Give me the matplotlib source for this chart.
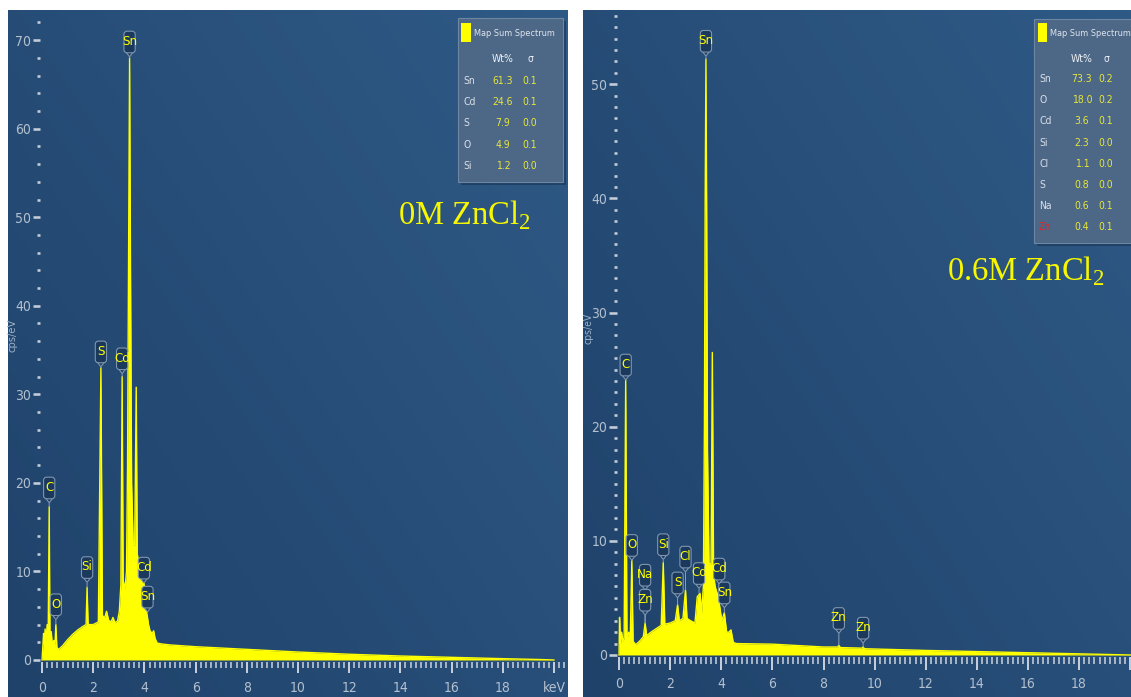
import numpy as np
import matplotlib
matplotlib.use("Agg")
import matplotlib.pyplot as plt
from matplotlib import font_manager as fm
from matplotlib.offsetbox import DrawingArea, AnnotationBbox
from matplotlib.patches import FancyBboxPatch, Rectangle, Polygon
from matplotlib.text import Text
from matplotlib.ticker import FixedLocator, FixedFormatter

# ---------------- data ----------------
energy_0M = [0.00, 0.03, 0.06, 0.09, 0.12, 0.16, 0.20, 0.24, 0.28, 0.31, 0.36, 0.40, 0.46, 0.50,
             0.54, 0.58, 0.65, 0.80, 1.00, 1.20, 1.40, 1.60, 1.72, 1.76, 1.80, 2.00, 2.20, 2.30,
             2.36, 2.45, 2.52, 2.60, 2.70, 2.77, 2.85, 2.95, 3.02, 3.08, 3.13, 3.17, 3.24, 3.30,
             3.34, 3.38, 3.42, 3.46, 3.50, 3.56, 3.62, 3.68, 3.72, 3.80, 3.90, 3.98, 4.04, 4.10,
             4.16, 4.22, 4.30, 4.36, 4.42, 4.50, 4.70, 5.00, 6.00, 8.00, 10.0, 12.0, 14.0, 16.0,
             18.0, 19.5, 20.0]
cps_0M = [0.0, 1.5, 3.0, 1.8, 3.5, 2.2, 4.0, 3.0, 17.3, 2.5, 3.2, 1.8, 2.2, 1.5,
          4.0, 1.4, 1.2, 1.6, 2.3, 2.9, 3.4, 3.8, 4.0, 8.2, 4.0, 4.0, 4.3, 33.0,
          5.0, 4.8, 5.5, 4.5, 4.3, 4.8, 4.2, 4.4, 5.5, 8.5, 32.0, 9.0, 8.0, 10.0,
          22.0, 45.0, 68.0, 42.0, 20.0, 13.0, 13.0, 30.8, 12.0, 10.5, 9.0, 8.7, 6.5, 5.2,
          4.0, 3.3, 3.0, 3.3, 2.4, 1.9, 1.8, 1.7, 1.5, 1.2, 0.9, 0.65, 0.45, 0.3,
          0.15, 0.05, 0.0]

energy_06M = [0.00, 0.02, 0.06, 0.10, 0.15, 0.20, 0.26, 0.31, 0.38, 0.44, 0.50, 0.55, 0.65, 0.80,
              0.95, 1.02, 1.08, 1.25, 1.45, 1.65, 1.73, 1.79, 2.00, 2.20, 2.29, 2.36, 2.50, 2.60,
              2.66, 2.80, 2.97, 3.06, 3.17, 3.23, 3.30, 3.34, 3.37, 3.40, 3.43, 3.46, 3.52, 3.60,
              3.65, 3.70, 3.76, 3.89, 4.02, 4.12, 4.21, 4.30, 4.38, 4.47, 4.60, 6.00, 8.00, 8.55,
              8.60, 8.66, 9.50, 9.55, 9.60, 12.0, 14.0, 16.0, 18.0, 20.0]
cps_06M = [0.0, 3.3, 1.0, 2.0, 1.2, 1.5, 24.1, 1.5, 2.0, 1.5, 8.3, 1.2, 0.9, 1.2,
           1.6, 2.8, 1.7, 2.0, 2.3, 2.6, 8.1, 2.7, 2.8, 3.0, 4.4, 3.0, 3.2, 5.7,
           3.2, 3.0, 2.8, 5.1, 5.4, 3.7, 6.0, 20.0, 40.0, 52.2, 38.0, 18.0, 8.0, 8.0,
           26.5, 7.0, 6.0, 5.0, 3.0, 3.7, 2.0, 2.0, 2.2, 1.1, 1.0, 0.95, 0.7, 0.7,
           0.85, 0.65, 0.6, 0.7, 0.55, 0.4, 0.3, 0.2, 0.1, 0.0]

peak_names_0M = ['C', 'O', 'Si', 'S', 'Cd', 'Sn', 'Cd', 'Sn']
peak_energy_0M = [0.28, 0.54, 1.76, 2.30, 3.13, 3.42, 3.98, 4.12]
peak_cps_0M = [17.3, 4.0, 8.2, 33.0, 32.0, 68.0, 8.7, 5.2]

peak_names_06M = ['C', 'O', 'Na', 'Zn', 'Si', 'S', 'Cl', 'Cd', 'Sn', 'Cd', 'Sn', 'Zn', 'Zn']
peak_energy_06M = [0.26, 0.50, 1.02, 1.02, 1.73, 2.29, 2.60, 3.13, 3.40, 3.92, 4.12, 8.60, 9.55]
peak_cps_06M = [24.1, 8.3, 2.8, 2.8, 8.1, 4.4, 5.7, 5.4, 52.2, 5.0, 3.7, 0.85, 0.7]

quant_el_0M = ['Sn', 'Cd', 'S', 'O', 'Si']
quant_wt_0M = ['61.3', '24.6', '7.9', '4.9', '1.2']
quant_sig_0M = ['0.1', '0.1', '0.0', '0.1', '0.0']

quant_el_06M = ['Sn', 'O', 'Cd', 'Si', 'Cl', 'S', 'Na', 'Zn']
quant_wt_06M = ['73.3', '18.0', '3.6', '2.3', '1.1', '0.8', '0.6', '0.4']
quant_sig_06M = ['0.2', '0.2', '0.1', '0.0', '0.0', '0.0', '0.1', '0.1']

# ---------------- fonts: look for a narrow sans face ----------------
_narrow = None
for f in fm.fontManager.ttflist:
    nm = f.name.lower()
    fn = f.fname.lower()
    if ('condensed' in nm or 'narrow' in nm or 'condensed' in fn or 'narrow' in fn
            or str(f.stretch) in ('condensed', 'semi-condensed', 'extra-condensed')):
        if f.style == 'normal' and f.weight in (400, 'normal', 'regular', 'book'):
            if 'serif' in nm and 'sans' not in nm:
                continue
            _narrow = f.fname
            break
if _narrow:
    UI = dict(fontproperties=fm.FontProperties(fname=_narrow))
    SCALE = 1.0
else:
    UI = dict(family='DejaVu Sans')
    SCALE = 0.82


def ui(size, **kw):
    d = {}
    if 'fontproperties' in UI:
        fp = UI['fontproperties'].copy()
        fp.set_size(size)
        if kw.pop('bold', False):
            fp.set_weight('bold')
        d['fontproperties'] = fp
    else:
        d['family'] = 'DejaVu Sans'
        d['fontsize'] = size * SCALE
        if kw.pop('bold', False):
            d['fontweight'] = 'bold'
    d.update(kw)
    return d


# ---------------- layout / style ----------------
W, H = 1131, 697
PT = 0.72  # points per pixel at dpi 100
YELLOW = '#ffff00'
TICK = '#c3ccd8'
LAB = '#b4c0cf'

fig = plt.figure(figsize=(W / 100, H / 100), dpi=100)
fig.patch.set_facecolor('white')


def add_panel(box):
    l, t, r, b = box
    return fig.add_axes([l / W, 1 - b / H, (r - l) / W, (b - t) / H])


def px_to_ax(box, x, y):
    l, t, r, b = box
    return (x - l) / (r - l), (b - y) / (b - t)


def paint_bg(ax):
    xs = np.linspace(0, 1, 160)
    ys = np.linspace(0, 1, 160)
    X, Y = np.meshgrid(xs, ys)
    t = np.clip(0.55 * X + 0.45 * Y, 0, 1)
    c0 = np.array([31, 66, 106]) / 255
    c1 = np.array([47, 90, 134]) / 255
    img = c0 + (c1 - c0) * t[..., None]
    ax.imshow(img, extent=[0, 1, 0, 1], transform=ax.transAxes, origin='lower',
              aspect='auto', zorder=0, interpolation='bilinear')


def peak_label(ax, name, e, c, gap_px, color=YELLOW):
    w, h, tip = 14 * PT, 27 * PT, 4 * PT
    da = DrawingArea(w, h, 0, 0, clip=False)
    body = FancyBboxPatch((1, tip), w - 2, h - tip - 1,
                          boxstyle='round,pad=0,rounding_size=2.2',
                          fc='#1b395d', ec='#7f95ae', lw=0.8)
    tri = Polygon([[w / 2 - 2.6, tip + 0.6], [w / 2, 0], [w / 2 + 2.6, tip + 0.6]],
                  closed=True, fc='#1b395d', ec='#7f95ae', lw=0.8)
    da.add_artist(tri)
    da.add_artist(body)
    da.add_artist(Text(w / 2, tip + (h - tip) / 2, name, ha='center', va='center',
                       color=color, **ui(9.5)))
    ab = AnnotationBbox(da, (e, c), xybox=(0, gap_px * PT + h / 2),
                        xycoords='data', boxcoords='offset points',
                        box_alignment=(0.5, 0.5), frameon=False, pad=0,
                        arrowprops=dict(arrowstyle='-', color='#8ea0b6', lw=0.7,
                                        shrinkA=0, shrinkB=0), zorder=5)
    ax.add_artist(ab)


def style_axes(ax, xlim, ylim, ymajor, yminor, xlabels, y_spine, x_spine,
               xmaj_len, xmin_len, xpad, ymaj_len):
    ax.set_xlim(*xlim)
    ax.set_ylim(*ylim)
    for s in ax.spines.values():
        s.set_visible(False)
    ax.spines['bottom'].set_position(('data', y_spine))
    ax.spines['left'].set_position(('data', x_spine))
    ax.xaxis.set_major_locator(FixedLocator(np.arange(0, 20.01, 2)))
    ax.xaxis.set_major_formatter(FixedFormatter(xlabels))
    ax.xaxis.set_minor_locator(FixedLocator(np.arange(0, 20.45, 0.2)))
    ax.yaxis.set_major_locator(FixedLocator(ymajor))
    ax.yaxis.set_minor_locator(FixedLocator(yminor))
    ax.tick_params(axis='x', which='major', direction='out', length=xmaj_len * PT,
                   width=2 * PT, color=TICK, labelcolor=LAB, pad=xpad * PT)
    ax.tick_params(axis='x', which='minor', direction='out', length=xmin_len * PT,
                   width=1.6 * PT, color=TICK)
    ax.tick_params(axis='y', which='major', direction='out', length=ymaj_len * PT,
                   width=2.6 * PT, color=TICK, labelcolor=LAB, pad=1.2)
    ax.tick_params(axis='y', which='minor', direction='out', length=2.6 * PT,
                   width=2.6 * PT, color=TICK)
    for lbl in ax.get_xticklabels() + ax.get_yticklabels():
        p = ui(10)
        if 'fontproperties' in p:
            lbl.set_fontproperties(p['fontproperties'])
        else:
            lbl.set_family(p['family'])
            lbl.set_fontsize(p['fontsize'])


def legend_box(ax, box, rect, sq, title_xy, head_y, wt_x, sig_x, el_x, rows_y,
               els, wts, sigs, red=()):
    (x0, y0), (x1, y1) = px_to_ax(box, rect[0], rect[3]), px_to_ax(box, rect[2], rect[1])
    sx0, sy0 = px_to_ax(box, rect[0] + 3, rect[3] + 3)
    ax.add_patch(Rectangle((sx0, sy0), x1 - x0, y1 - y0, transform=ax.transAxes,
                           fc='#15304f', ec='none', alpha=0.55, zorder=6))
    ax.add_patch(Rectangle((x0, y0), x1 - x0, y1 - y0, transform=ax.transAxes,
                           fc='#4d6887', ec='#6d86a2', lw=0.8, zorder=7))
    qx0, qy0 = px_to_ax(box, sq[0], sq[3])
    qx1, qy1 = px_to_ax(box, sq[2], sq[1])
    ax.add_patch(Rectangle((qx0, qy0), qx1 - qx0, qy1 - qy0, transform=ax.transAxes,
                           fc=YELLOW, ec='none', zorder=8))
    tx, ty = px_to_ax(box, *title_xy)
    ax.text(tx, ty, 'Map Sum Spectrum', transform=ax.transAxes, color='#dfe4eb',
            ha='left', va='center', zorder=9, **ui(6.6))
    for xx, s in [(wt_x, 'Wt%'), (sig_x, 'σ')]:
        a, b = px_to_ax(box, xx, head_y)
        ax.text(a, b, s, transform=ax.transAxes, color='#eef1f5',
                ha='center', va='center', zorder=9, **ui(7.5, bold=True))
    for i, (el, wt, sg) in enumerate(zip(els, wts, sigs)):
        yy = rows_y[0] + rows_y[1] * i
        a, b = px_to_ax(box, el_x, yy)
        ax.text(a, b, el, transform=ax.transAxes, ha='left', va='center',
                color='#e0262b' if el in red else '#d9dee6', zorder=9, **ui(7.5))
        a, b = px_to_ax(box, wt_x, yy)
        ax.text(a, b, wt, transform=ax.transAxes, ha='center', va='center',
                color='#e6e63a', zorder=9, **ui(7.5))
        a, b = px_to_ax(box, sig_x, yy)
        ax.text(a, b, sg, transform=ax.transAxes, ha='center', va='center',
                color='#e6e63a', zorder=9, **ui(7.5))


# ---------------- left panel: 0M ZnCl2 ----------------
boxL = (8, 10, 568, 697)
axL = add_panel(boxL)
paint_bg(axL)
axL.fill_between(energy_0M, 0, cps_0M, color=YELLOW, lw=0, zorder=2)
axL.plot(energy_0M, cps_0M, color=YELLOW, lw=1.0, zorder=2)
style_axes(axL, (-1.33, 20.55), (-4.18, 73.4), np.arange(0, 71, 10), np.arange(0, 73, 2),
           ['0', '2', '4', '6', '8', '10', '12', '14', '16', '18', 'keV'],
           -0.23, -0.08, 11, 6, 8, 7)
gaps_0M = [4, 5, 5, 1, 3, 1, 0, 2]
for n, e, c, g in zip(peak_names_0M, peak_energy_0M, peak_cps_0M, gaps_0M):
    peak_label(axL, n, e, c, g)
a, b = px_to_ax(boxL, 13, 335)
axL.text(a, b, 'cps/eV', transform=axL.transAxes, rotation=90, ha='center', va='center',
         color='#9fb1c7', **ui(8))
a, b = px_to_ax(boxL, 398, 224)
axL.text(a, b, r'0M ZnCl$_\mathregular{2}$', transform=axL.transAxes, ha='left',
         va='baseline', color='#f7f700', fontsize=23.5,
         family=['Liberation Serif', 'DejaVu Serif'], zorder=9)
legend_box(axL, boxL, (458, 18, 563, 182), (461, 23, 471, 42), (474, 33), 59, 503, 530,
           463, (81, 21.2), quant_el_0M, quant_wt_0M, quant_sig_0M)

# ---------------- right panel: 0.6M ZnCl2 ----------------
boxR = (583, 10, 1131, 697)
axR = add_panel(boxR)
paint_bg(axR)
axR.fill_between(energy_06M, 0, cps_06M, color=YELLOW, lw=0, zorder=2)
axR.plot(energy_06M, cps_06M, color=YELLOW, lw=1.0, zorder=2)
style_axes(axR, (-1.41, 20.03), (-3.68, 56.5), np.arange(0, 51, 10), np.arange(0, 57, 1),
           ['0', '2', '4', '6', '8', '10', '12', '14', '16', '18', ''],
           -0.18, -0.08, 13, 7, 7, 8)
gaps_06M = [0, 0, 33, 8, 3, 7, 18, 5, 3, 14, 5, 12, 4]
for n, e, c, g in zip(peak_names_06M, peak_energy_06M, peak_cps_06M, gaps_06M):
    peak_label(axR, n, e, c, g)
a, b = px_to_ax(boxR, 588.5, 328)
axR.text(a, b, 'cps/eV', transform=axR.transAxes, rotation=90, ha='center', va='center',
         color='#9fb1c7', **ui(7.5))
a, b = px_to_ax(boxR, 947, 280)
axR.text(a, b, r'0.6M ZnCl$_\mathregular{2}$', transform=axR.transAxes, ha='left',
         va='baseline', color='#f7f700', fontsize=23.5,
         family=['Liberation Serif', 'DejaVu Serif'], zorder=9)
legend_box(axR, boxR, (1034, 19, 1140, 243), (1038, 23, 1047, 42), (1050, 34), 59, 1082,
           1106, 1039, (79, 21.2), quant_el_06M, quant_wt_06M, quant_sig_06M, red=('Zn',))

fig.savefig('out.png', dpi=100, facecolor='white')
